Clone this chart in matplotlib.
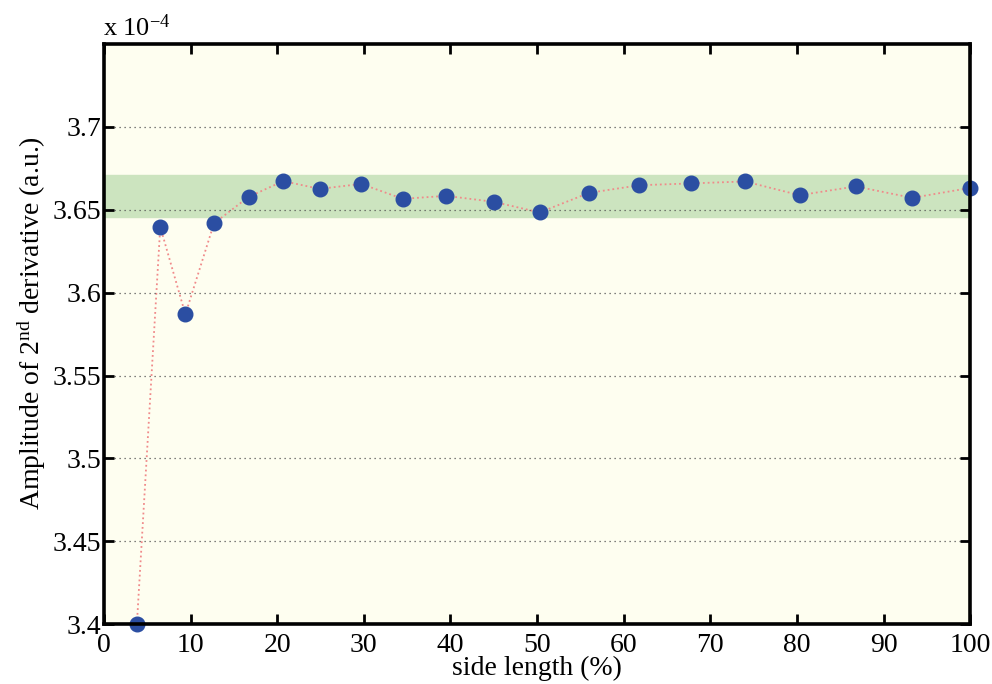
import numpy as np
import matplotlib.pyplot as plt

plt.rcParams['font.family'] = 'Liberation Serif'
plt.rcParams['mathtext.fontset'] = 'custom'
plt.rcParams['mathtext.rm'] = 'Liberation Serif'
plt.rcParams['mathtext.it'] = 'Liberation Serif:italic'

# side length (%) and amplitude (x 1e-4)
side_length = [3.8, 6.5, 9.4, 12.7, 16.7, 20.7, 24.9, 29.7, 34.5, 39.5,
               45.0, 50.3, 56.0, 61.8, 67.8, 74.0, 80.3, 86.8, 93.3, 100.0]
amplitude = [3.400, 3.6397, 3.5869, 3.6418, 3.6578, 3.6673, 3.6626, 3.6656, 3.6566, 3.6584,
             3.6548, 3.6484, 3.6602, 3.6648, 3.6659, 3.6671, 3.6588, 3.6641, 3.6572, 3.6632]

# tolerance band
band_low = 3.6457
band_high = 3.6709

fig = plt.figure(figsize=(9.92, 6.84), dpi=100)
ax = fig.add_axes([0.1048, 0.0873, 0.8732, 0.8484])
ax.set_facecolor('#fefef0')

ax.axhspan(band_low, band_high, color='#cce4bf', zorder=1)
ax.plot(side_length, amplitude, ':', color='#f08a8a', lw=1.3, zorder=2)
ax.plot(side_length, amplitude, 'o', color='#2b4ea2', ms=10.5, mec='#2b4ea2', zorder=3, clip_on=False)

ax.set_xlim(0, 100)
ax.set_ylim(3.4, 3.75)
ax.set_xticks(np.arange(0, 101, 10))
ax.set_yticks([3.4, 3.45, 3.5, 3.55, 3.6, 3.65, 3.7])
ax.set_yticklabels(['3.4', '3.45', '3.5', '3.55', '3.6', '3.65', '3.7'])
ax.yaxis.grid(True, linestyle=(0, (1, 3)), color='#555555', lw=0.9)
ax.set_axisbelow(False)

ax.tick_params(direction='in', top=True, right=True, length=7, width=2,
               labelsize=20)
ax.tick_params(axis='x', pad=6)
ax.tick_params(axis='y', pad=2)
for s in ax.spines.values():
    s.set_linewidth(2.6)
    s.set_zorder(5)

ax.set_xlabel('side length (%)', fontsize=20)
ax.xaxis.set_label_coords(0.5, -0.055)
ax.set_ylabel('Amplitude of 2$^{\\rm nd}$ derivative (a.u.)', fontsize=20)
ax.yaxis.set_label_coords(-0.065, 0.52)

fig.text(0.104, 0.94, 'x 10$^{-4}$', fontsize=19, ha='left', va='bottom')

fig.savefig('out.png', dpi=100)
